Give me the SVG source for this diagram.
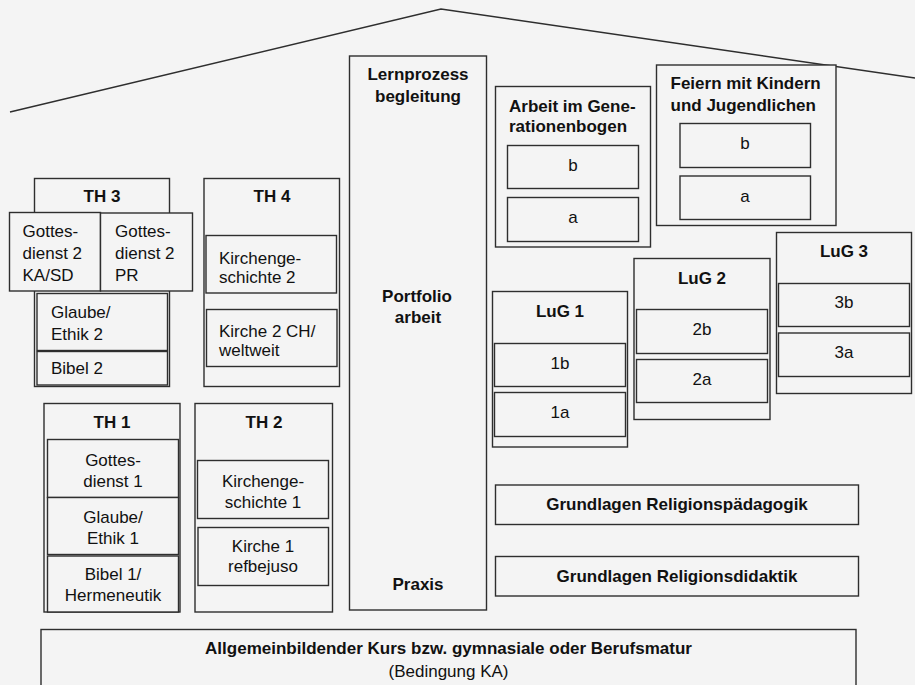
<svg xmlns="http://www.w3.org/2000/svg" width="915" height="685" viewBox="0 0 915 685">
<style>
.bg{fill:#f4f4f4}
.box{fill:#f4f4f4;stroke:#2e2e2e;stroke-width:1.4}
.line{fill:none;stroke:#2e2e2e;stroke-width:1.4}
text{font-family:"Liberation Sans",Arial,Helvetica,sans-serif;font-size:17px;fill:#111}
.b{font-weight:bold}
.c{text-anchor:middle}
</style>
<rect class="bg" x="0" y="0" width="915" height="685"/>
<g id="roof">
<polyline class="line" points="10,112 441,9 915,78"/>
</g>
<g id="th3">
<rect class="box" x="34.5" y="178.5" width="135" height="208"/>
<text class="b c" x="102" y="202">TH 3</text>
<rect class="box" x="37" y="293.5" width="130.5" height="57"/>
<text x="51" y="318">Glaube/</text>
<text x="51" y="340">Ethik 2</text>
<rect class="box" x="37" y="351.5" width="130.5" height="33.5"/>
<text x="51" y="374">Bibel 2</text>
<rect class="box" x="9.5" y="212.5" width="91" height="78.5"/>
<text x="22.5" y="237">Gottes-</text>
<text x="22.5" y="259">dienst 2</text>
<text x="22.5" y="281">KA/SD</text>
<rect class="box" x="100.5" y="213" width="92" height="78"/>
<text x="115" y="237">Gottes-</text>
<text x="115" y="259">dienst 2</text>
<text x="115" y="281">PR</text>
</g>
<g id="th4">
<rect class="box" x="204" y="178.5" width="135.5" height="208"/>
<text class="b c" x="272" y="202">TH 4</text>
<rect class="box" x="206" y="235.5" width="130.5" height="57.5"/>
<text x="219" y="264">Kirchenge-</text>
<text x="219" y="283">schichte 2</text>
<rect class="box" x="206.5" y="309.5" width="130.5" height="57"/>
<text x="219" y="336.5">Kirche 2 CH/</text>
<text x="219" y="355.5">weltweit</text>
</g>
<g id="th1">
<rect class="box" x="44" y="403.5" width="136" height="208.5"/>
<text class="b c" x="112" y="428">TH 1</text>
<rect class="box" x="47.5" y="439.5" width="131" height="58"/>
<text class="c" x="113" y="465.5">Gottes-</text>
<text class="c" x="113" y="486.5">dienst 1</text>
<rect class="box" x="47.5" y="497.5" width="131" height="57"/>
<text class="c" x="113" y="522.5">Glaube/</text>
<text class="c" x="113" y="544">Ethik 1</text>
<rect class="box" x="47.5" y="556" width="131" height="56"/>
<text class="c" x="113" y="580">Bibel 1/</text>
<text class="c" x="113" y="600.5">Hermeneutik</text>
</g>
<g id="th2">
<rect class="box" x="195" y="403.5" width="137.5" height="208.5"/>
<text class="b c" x="264" y="428">TH 2</text>
<rect class="box" x="197.5" y="460.5" width="131" height="58"/>
<text class="c" x="263" y="486.5">Kirchenge-</text>
<text class="c" x="263" y="507.5">schichte 1</text>
<rect class="box" x="198" y="527.5" width="130.5" height="58"/>
<text class="c" x="263" y="551.5">Kirche 1</text>
<text class="c" x="263" y="571.5">refbejuso</text>
</g>
<g id="lernprozess">
<rect class="box" x="349.5" y="56" width="137" height="554"/>
<text class="b c" x="418" y="80">Lernprozess</text>
<text class="b c" x="418" y="101.5">begleitung</text>
<text class="b c" x="417" y="302">Portfolio</text>
<text class="b c" x="418" y="323">arbeit</text>
<text class="b c" x="418" y="590">Praxis</text>
</g>
<g id="generationenbogen">
<rect class="box" x="495.5" y="86.5" width="155" height="160.5"/>
<text class="b" x="509" y="112">Arbeit im Gene-</text>
<text class="b" x="509" y="131.5">rationenbogen</text>
<rect class="box" x="507.5" y="145.5" width="131" height="43"/>
<text class="c" x="573" y="170.5">b</text>
<rect class="box" x="507.5" y="197.5" width="131" height="44"/>
<text class="c" x="573" y="222.5">a</text>
</g>
<g id="feiern">
<rect class="box" x="656.5" y="65" width="179.5" height="160.5"/>
<text class="b" x="670.5" y="89">Feiern mit Kindern</text>
<text class="b" x="670.5" y="111">und Jugendlichen</text>
<rect class="box" x="680" y="123.5" width="130.5" height="44"/>
<text class="c" x="745" y="149">b</text>
<rect class="box" x="680" y="176" width="130.5" height="43.5"/>
<text class="c" x="745" y="201.5">a</text>
</g>
<g id="lug1">
<rect class="box" x="492.5" y="291.5" width="135" height="155.5"/>
<text class="b c" x="560" y="317">LuG 1</text>
<rect class="box" x="494.5" y="343.5" width="131" height="43"/>
<text class="c" x="560" y="369">1b</text>
<rect class="box" x="494.5" y="392.5" width="131" height="44"/>
<text class="c" x="560" y="418">1a</text>
</g>
<g id="lug2">
<rect class="box" x="634" y="258.5" width="136" height="161"/>
<text class="b c" x="702" y="284">LuG 2</text>
<rect class="box" x="636.5" y="309.5" width="131" height="44"/>
<text class="c" x="702" y="335">2b</text>
<rect class="box" x="636.5" y="359.5" width="131" height="43"/>
<text class="c" x="702" y="385">2a</text>
</g>
<g id="lug3">
<rect class="box" x="776.5" y="232.5" width="135" height="161"/>
<text class="b c" x="844" y="257">LuG 3</text>
<rect class="box" x="778.5" y="283.5" width="131" height="43"/>
<text class="c" x="844" y="308">3b</text>
<rect class="box" x="778.5" y="333" width="131" height="43.5"/>
<text class="c" x="844" y="358">3a</text>
</g>
<g id="grundlagen-rp">
<rect class="box" x="495.5" y="485" width="363" height="39.5"/>
<text class="b c" x="677" y="510">Grundlagen Religionspädagogik</text>
</g>
<g id="grundlagen-rd">
<rect class="box" x="495.5" y="556.5" width="363" height="39.5"/>
<text class="b c" x="677" y="581.5">Grundlagen Religionsdidaktik</text>
</g>
<g id="basis">
<rect class="box" x="41" y="629.5" width="815" height="70"/>
<text class="b c" x="448.5" y="654">Allgemeinbildender Kurs bzw. gymnasiale oder Berufsmatur</text>
<text class="c" x="448.5" y="676.5">(Bedingung KA)</text>
</g>
<g id="connectors"></g>
</svg>
